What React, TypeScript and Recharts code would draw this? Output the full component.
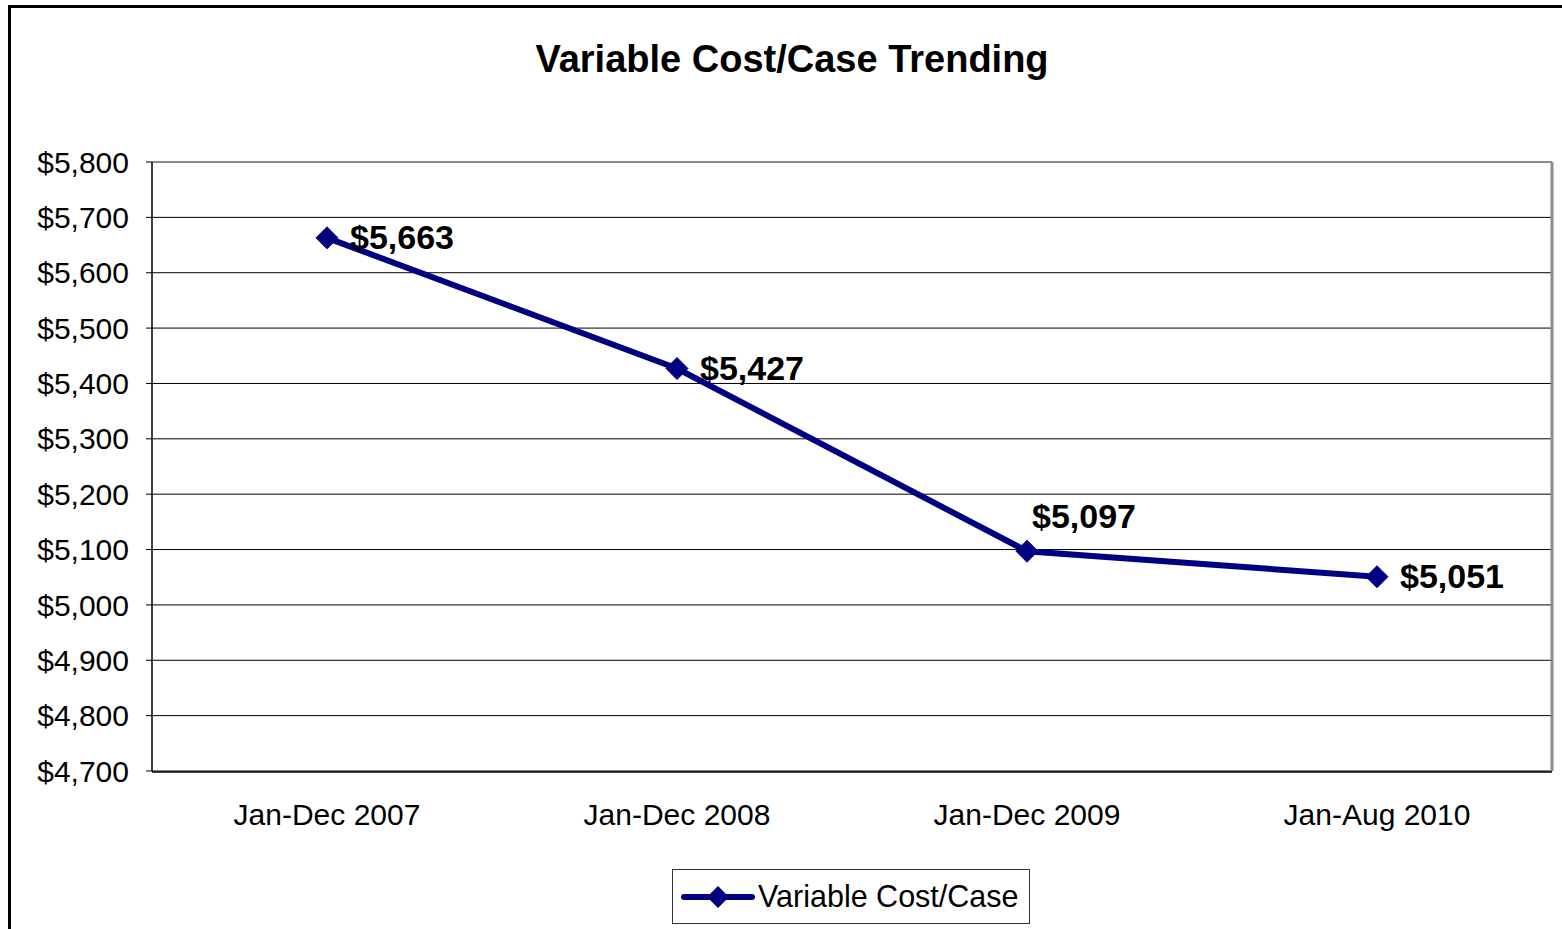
import React from "react"
import { LineChart, Line, XAxis, YAxis, CartesianGrid } from "recharts"

const periods = ["Jan-Dec 2007", "Jan-Dec 2008", "Jan-Dec 2009", "Jan-Aug 2010"]
const costPerCase = [5663, 5427, 5097, 5051]
const yTicks = [4700, 4800, 4900, 5000, 5100, 5200, 5300, 5400, 5500, 5600, 5700, 5800]
const edgeTicks = [0, 1, 2, 3, 4]

const data = periods.map((name, i) => ({ name, cost: costPerCase[i] }))

const FONT = "'Liberation Sans', Arial, sans-serif"
const NAVY = "#000080"

const money = (v: number) => "$" + v.toLocaleString("en-US")

function Diamond(props: any) {
  const { cx, cy } = props
  if (cx == null || cy == null) return null
  const r = 11
  return (
    <polygon
      points={`${cx},${cy - r} ${cx + r},${cy} ${cx},${cy + r} ${cx - r},${cy}`}
      fill={NAVY}
      stroke={NAVY}
      strokeWidth={1}
    />
  )
}

function PointLabel(props: any) {
  const { x, y, value, index } = props
  // the 2009 label sits above its point, the rest to the right
  const above = index === 2
  return (
    <text
      x={above ? x + 5 : x + 23}
      y={above ? y - 35 : y - 1}
      dominantBaseline="central"
      fontFamily={FONT}
      fontSize={34}
      fontWeight="bold"
      fill="#000"
    >
      {money(value)}
    </text>
  )
}

export default function App() {
  return (
    <div
      style={{
        position: "absolute",
        left: 0,
        top: 0,
        width: 1562,
        height: 929,
        overflow: "hidden",
        background: "#fff",
        fontFamily: FONT,
      }}
    >
      <div
        style={{
          position: "absolute",
          left: 8,
          top: 5,
          width: 1600,
          height: 1000,
          border: "3px solid #000",
          boxSizing: "border-box",
        }}
      />
      <div
        style={{
          position: "absolute",
          left: 0,
          width: 1584,
          top: 37,
          textAlign: "center",
          fontSize: 38,
          fontWeight: "bold",
          color: "#000",
          lineHeight: "44px",
        }}
      >
        Variable Cost/Case Trending
      </div>

      <LineChart
        width={1562}
        height={929}
        data={data}
        margin={{ top: 161, right: 9, bottom: 97, left: 0 }}
        style={{ position: "absolute", left: 0, top: 0 }}
      >
        <CartesianGrid xAxisId="cat" yAxisId="left" vertical={false} stroke="#000" strokeWidth={1} />
        <XAxis
          xAxisId="cat"
          dataKey="name"
          height={1}
          padding={{ left: 175, right: 175 }}
          axisLine={false}
          tickLine={false}
          tickSize={0}
          tickMargin={33}
          tick={{ fill: "#000", fontSize: 30, fontFamily: FONT }}
        />
        <XAxis
          xAxisId="edges"
          type="number"
          domain={[0, 4]}
          ticks={edgeTicks}
          tick={false}
          tickSize={7}
          height={60}
          axisLine={{ stroke: "#000", strokeWidth: 1.5 }}
          tickLine={{ stroke: "#000", strokeWidth: 1.5 }}
        />
        <XAxis
          xAxisId="top"
          orientation="top"
          dataKey="name"
          height={1}
          tick={false}
          tickLine={false}
          axisLine={{ stroke: "#8c8c8c", strokeWidth: 2 }}
        />
        <YAxis
          yAxisId="left"
          width={152}
          domain={[4700, 5800]}
          ticks={yTicks}
          interval={0}
          tickFormatter={money}
          tickSize={6}
          tickMargin={17}
          axisLine={{ stroke: "#000", strokeWidth: 1.5 }}
          tickLine={{ stroke: "#000" }}
          tick={{ fill: "#000", fontSize: 30, fontFamily: FONT }}
        />
        <YAxis
          yAxisId="right"
          orientation="right"
          width={1}
          domain={[4700, 5800]}
          tick={false}
          tickLine={false}
          axisLine={{ stroke: "#8c8c8c", strokeWidth: 3 }}
        />
        <Line
          xAxisId="cat"
          yAxisId="left"
          dataKey="cost"
          stroke={NAVY}
          strokeWidth={6}
          dot={<Diamond />}
          activeDot={false}
          label={<PointLabel />}
          isAnimationActive={false}
        />
      </LineChart>

      <div
        style={{
          position: "absolute",
          left: 672,
          top: 869,
          width: 358,
          height: 55,
          border: "1px solid #333",
          boxSizing: "border-box",
          display: "flex",
          alignItems: "center",
          paddingLeft: 8,
        }}
      >
        <svg width={74} height={30} style={{ marginRight: 3 }}>
          <line x1={3} y1={15} x2={71} y2={15} stroke={NAVY} strokeWidth={6} strokeLinecap="round" />
          <polygon points="37,4 48,15 37,26 26,15" fill={NAVY} />
        </svg>
        <span style={{ fontSize: 30.5, color: "#000", whiteSpace: "nowrap" }}>Variable Cost/Case</span>
      </div>
    </div>
  )
}
